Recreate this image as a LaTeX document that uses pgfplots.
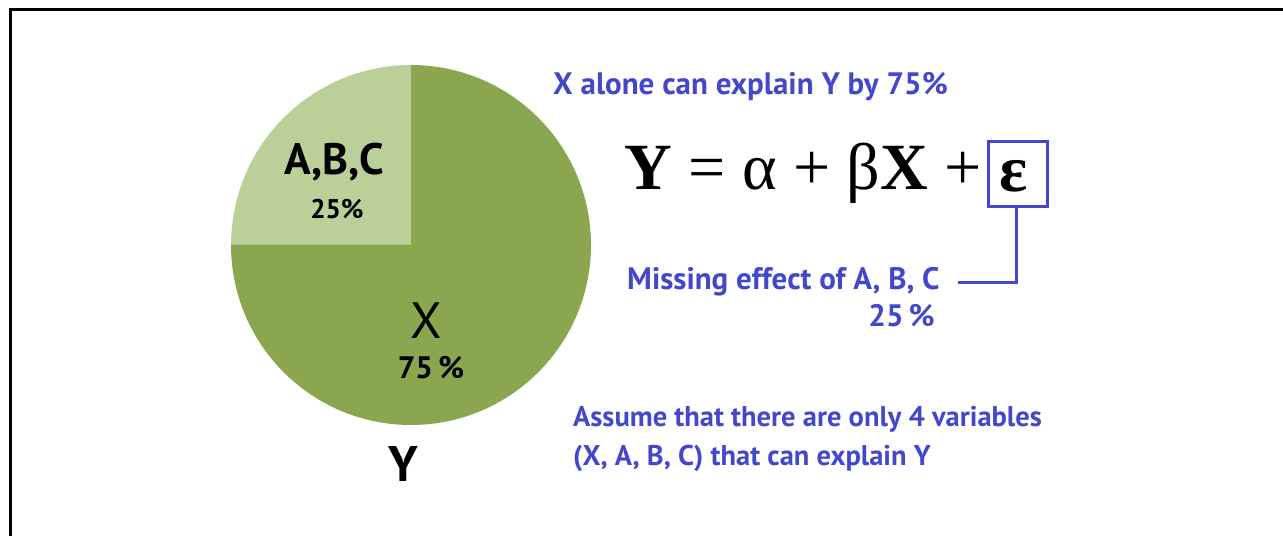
\documentclass[border=0pt]{standalone}
\usepackage{pgfplots}
\pgfplotsset{compat=1.18}
\usepackage{pgfplotstable}
\usepackage{fontspec}
\setmainfont{PT Sans}
\newfontfamily\eqfont{Liberation Serif}

\definecolor{pieX}{HTML}{8AA64E}
\definecolor{pieABC}{HTML}{BBCF98}
\definecolor{note}{HTML}{4347CB}

% shares of Y explained by each part (percent)
\pgfplotstableread{
part share
ABC  25
X    75
}\piedata

\newcommand{\fs}[1]{\fontsize{#1bp}{#1bp}\selectfont}

\begin{document}
\begin{tikzpicture}
\pgfplotstablegetelem{0}{share}\of\piedata \let\shareABC\pgfplotsretval
\pgfplotstablegetelem{1}{share}\of\piedata \let\shareX\pgfplotsretval
\begin{axis}[x=1bp, y=1bp, xmin=0, xmax=1283, ymin=0, ymax=536,
  hide axis, clip=false]
  % frame
  \draw[line width=3bp] (axis cs:10.7,0) -- (axis cs:10.7,526.3) -- (axis cs:1283,526.3);

  % pie: sectors start at 12 o'clock and run counter-clockwise
  \pgfmathsetmacro{\aABC}{3.6*\shareABC}
  \pgfmathsetmacro{\aX}{3.6*\shareX}
  \fill[pieABC] (axis cs:411,291) -- ++(90:180bp)
      arc[start angle=90, delta angle=\aABC, radius=180bp] -- cycle;
  \fill[pieX] (axis cs:411,291) -- ++({90+\aABC}:180bp)
      arc[start angle={90+\aABC}, delta angle=\aX, radius=180bp] -- cycle;

  % slice labels
  \node[anchor=base, inner sep=0] at (axis cs:334,361) {\fs{44}\bfseries A,B,C};
  \node[anchor=base, inner sep=0] at (axis cs:337,317) {\fs{27}\bfseries \shareABC\%};
  \node[anchor=base, inner sep=0] at (axis cs:426,197) {\fs{51}X};
  \node[anchor=base, inner sep=0] at (axis cs:431,157) {\fs{31}\bfseries \shareX\,\%};
  \node[anchor=base, inner sep=0] at (axis cs:403,54) {\fs{50}\bfseries Y};

  % notes
  \node[anchor=base west, inner sep=0, text=note] at (axis cs:553,441)
    {\fs{31}\bfseries X alone can explain Y by 75\%};
  \node[anchor=base west, inner sep=0] at (axis cs:624,346)
    {\eqfont\fs{66}{\bfseries Y} = α + β{\bfseries X} +};
  \node[anchor=base, inner sep=0] at (axis cs:1014,344) {\eqfont\fs{66}\bfseries ε};
  \draw[note, line width=3bp] (axis cs:988,329) rectangle (axis cs:1047,394);
  \draw[note, line width=3bp] (axis cs:1016,329) -- (axis cs:1016,253) -- (axis cs:958,253);
  \node[anchor=base west, inner sep=0, text=note] at (axis cs:627,246)
    {\fs{31}\bfseries Missing effect of A, B, C};
  \node[anchor=base east, inner sep=0, text=note] at (axis cs:935,209)
    {\fs{31}\bfseries 25\,\%};
  \node[anchor=base west, inner sep=0, text=note] at (axis cs:573,109)
    {\fs{28.5}\bfseries Assume that there are only 4 variables};
  \node[anchor=base west, inner sep=0, text=note] at (axis cs:573,70)
    {\fs{28.5}\bfseries (X, A, B, C) that can explain Y};
\end{axis}
\pgfresetboundingbox
\useasboundingbox (current axis.south west) rectangle (current axis.north east);
\end{tikzpicture}
\end{document}
